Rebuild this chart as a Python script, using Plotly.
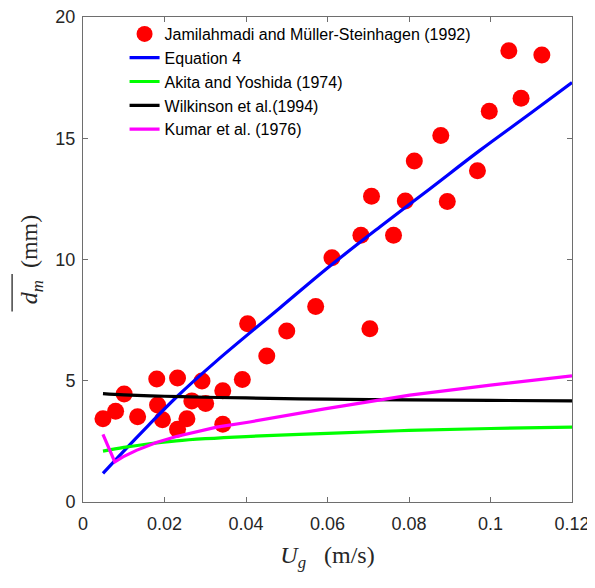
import plotly.graph_objects as go

# Experimental data: Jamilahmadi and Müller-Steinhagen (1992)
exp_ug = [0.0049, 0.0080, 0.0101, 0.0134, 0.0181, 0.0183, 0.0195, 0.0232, 0.0232,
          0.0255, 0.0267, 0.0292, 0.0301, 0.0343, 0.0343, 0.0391, 0.0404, 0.0451,
          0.0500, 0.0571, 0.0611, 0.0682, 0.0708, 0.0704, 0.0762, 0.0791, 0.0813,
          0.0878, 0.0894, 0.0968, 0.0997, 0.1045, 0.1075, 0.1126]
exp_dm = [3.43, 3.74, 4.45, 3.52, 5.07, 4.00, 3.39, 5.11, 3.00,
          3.43, 4.17, 4.99, 4.06, 4.59, 3.21, 5.05, 7.35, 6.02,
          7.05, 8.06, 10.07, 11.00, 12.61, 7.14, 11.00, 12.41, 14.06,
          15.11, 12.39, 13.66, 16.11, 18.61, 16.65, 18.43]

# Equation 4
eq4_ug = [0.0049, 0.0100, 0.0160, 0.0229, 0.0328, 0.0483, 0.0600, 0.0729, 0.0850, 0.0974, 0.1100, 0.1200]
eq4_dm = [1.18, 2.10, 3.15, 4.32, 5.82, 8.00, 9.65, 11.35, 12.90, 14.50, 16.05, 17.30]

# Akita and Yoshida (1974)
aky_ug = [0.0049, 0.0100, 0.0150, 0.0229, 0.0300, 0.0400, 0.0600, 0.0800, 0.1000, 0.1200]
aky_dm = [2.10, 2.25, 2.37, 2.52, 2.61, 2.70, 2.83, 2.95, 3.03, 3.09]

# Wilkinson et al. (1994)
wil_ug = [0.0049, 0.0100, 0.0200, 0.0300, 0.0400, 0.0600, 0.0800, 0.1000, 0.1200]
wil_dm = [4.47, 4.42, 4.36, 4.32, 4.29, 4.24, 4.21, 4.19, 4.17]

# Kumar et al. (1976)
kum_ug = [0.0049, 0.0078, 0.0098, 0.0131, 0.0180, 0.0229, 0.0328, 0.0409, 0.0593, 0.0802, 0.1000, 0.1200]
kum_dm = [2.79, 1.65, 1.86, 2.13, 2.45, 2.70, 3.09, 3.30, 3.84, 4.41, 4.82, 5.20]

x_ticks = [0, 0.02, 0.04, 0.06, 0.08, 0.1, 0.12]
x_labels = ["0", "0.02", "0.04", "0.06", "0.08", "0.1", "0.12"]
y_ticks = [0, 5, 10, 15, 20]

fig = go.Figure()
fig.add_trace(go.Scatter(x=exp_ug, y=exp_dm, mode="markers",
                         name="Jamilahmadi and Müller-Steinhagen (1992)",
                         marker=dict(color="#ff0000", size=17, line=dict(width=0))))
fig.add_trace(go.Scatter(x=eq4_ug, y=eq4_dm, mode="lines", name="Equation 4",
                         line=dict(color="#0000ff", width=3.2, shape="spline")))
fig.add_trace(go.Scatter(x=aky_ug, y=aky_dm, mode="lines", name="Akita and Yoshida (1974)",
                         line=dict(color="#00ff00", width=3.2, shape="spline")))
fig.add_trace(go.Scatter(x=wil_ug, y=wil_dm, mode="lines", name="Wilkinson et al.(1994)",
                         line=dict(color="#000000", width=3.2, shape="spline")))
fig.add_trace(go.Scatter(x=kum_ug, y=kum_dm, mode="lines", name="Kumar et al. (1976)",
                         line=dict(color="#ff00ff", width=3.2)))

axis_common = dict(
    showgrid=False, zeroline=False, showline=True, linecolor="#6e6e6e", linewidth=1,
    mirror="ticks", ticks="inside", ticklen=5, tickcolor="#6e6e6e", tickwidth=1,
    automargin=False, ticklabeloverflow="allow",
    tickfont=dict(family="Liberation Sans, Arial, sans-serif", size=18, color="#262626"),
)
title_font = dict(family="Liberation Serif, Times New Roman, serif", size=24, color="#262626")

fig.update_layout(
    width=587, height=580, autosize=False,
    paper_bgcolor="white", plot_bgcolor="white",
    margin=dict(l=75, r=23, t=9, b=86),
    xaxis=dict(range=[0, 0.12], tickvals=x_ticks, ticktext=x_labels, ticklabelstandoff=5,
               title=dict(text="<i>U</i><sub><i>g</i></sub>&nbsp;&nbsp;&nbsp;(m/s)",
                          font=title_font, standoff=13),
               **axis_common),
    yaxis=dict(range=[0, 20], tickvals=y_ticks, ticklabelstandoff=3,
               title=dict(text="<i>d</i><sub><i>m</i></sub>&nbsp;&nbsp;(mm)",
                          font=title_font, standoff=10),
               **axis_common),
    showlegend=True,
    legend=dict(x=0.085, y=1.0, xanchor="left", yanchor="top",
                bgcolor="rgba(0,0,0,0)", borderwidth=0,
                font=dict(family="Liberation Sans, Arial, sans-serif", size=16, color="#000000"),
                itemsizing="trace"),
)

# overline above the mean-diameter symbol in the y-axis title
fig.add_shape(type="line", xref="paper", yref="paper",
              x0=-0.145, x1=-0.145, y0=0.393, y1=0.47,
              line=dict(color="#262626", width=1.3))

fig.write_html("out.html")
